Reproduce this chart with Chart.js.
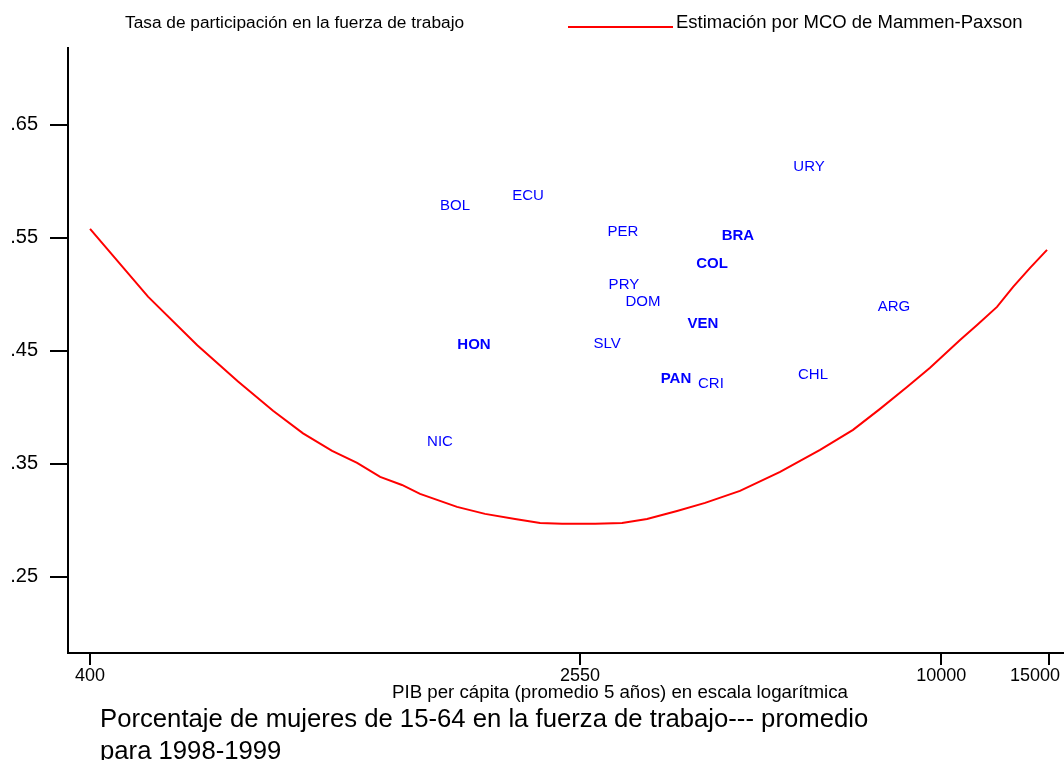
<!DOCTYPE html>
<html>
<head>
<meta charset="utf-8">
<script src="https://cdn.jsdelivr.net/npm/chart.js@4/dist/chart.umd.min.js"></script>
<style>
  body { margin: 0; background: #fff; }
  #chart { display: block; }
</style>
</head>
<body>
<canvas id="chart" width="1064" height="760"></canvas>
<script>
// country labels, GDP per capita (5-yr avg) and female participation rate
const countries = ["URY", "ECU", "BOL", "PER", "BRA", "COL", "PRY", "DOM", "VEN", "HON", "SLV", "PAN", "CRI", "CHL", "ARG", "NIC"];
const gdp = [6063, 2095, 1590, 3000, 4634, 4201, 3011, 3236, 4061, 1708, 2825, 3666, 4184, 6156, 8360, 1502];
const participation = [0.613, 0.587, 0.578, 0.555, 0.5515, 0.527, 0.508, 0.493, 0.474, 0.455, 0.4566, 0.4255, 0.421, 0.429, 0.489, 0.3696];
const boldCountries = ["HON", "BRA", "COL", "VEN", "PAN"];

// OLS fit (Mammen-Paxson)
const fitGdp = [400, 498, 600, 700, 799, 895, 999, 1098, 1198, 1301, 1393, 1602, 1781, 1995, 2193, 2384, 2700, 2990, 3286, 3681, 4093, 4670, 5435, 6322, 7161, 7931, 8782, 9581, 10732, 11446, 12342, 13118, 13986, 14912];
const fitRate = [0.558, 0.498, 0.455, 0.423, 0.397, 0.377, 0.3615, 0.351, 0.3385, 0.3314, 0.3235, 0.312, 0.3058, 0.3013, 0.2978, 0.297, 0.297, 0.2978, 0.3013, 0.3084, 0.3155, 0.3261, 0.3429, 0.3624, 0.3801, 0.3987, 0.4181, 0.435, 0.4597, 0.473, 0.4889, 0.5066, 0.5235, 0.5394];

const xTicks = [400, 2550, 10000, 15000];
const yTicks = [0.25, 0.35, 0.45, 0.55, 0.65];

const FONT = "'Liberation Sans', Arial, sans-serif";

const countryLabels = {
  id: "countryLabels",
  afterDatasetsDraw(chart) {
    const ctx = chart.ctx;
    const meta = chart.getDatasetMeta(0);
    ctx.save();
    ctx.fillStyle = "#0000ff";
    ctx.textAlign = "center";
    ctx.textBaseline = "middle";
    meta.data.forEach((pt, i) => {
      const name = countries[i];
      ctx.font = (boldCountries.includes(name) ? "bold " : "") + "15px " + FONT;
      ctx.fillText(name, pt.x, pt.y);
    });
    ctx.restore();
  },
};

const extraText = {
  id: "extraText",
  afterDraw(chart) {
    const ctx = chart.ctx;
    ctx.save();
    ctx.fillStyle = "#000";
    ctx.textBaseline = "middle";
    ctx.textAlign = "left";
    ctx.font = "17.3px " + FONT;
    ctx.fillText("Tasa de participación en la fuerza de trabajo", 125, 23);
    ctx.font = "18.5px " + FONT;
    ctx.fillText("Estimación por MCO de Mammen-Paxson", 676, 23);

    // legend line
    ctx.strokeStyle = "#ff0000";
    ctx.lineWidth = 2;
    ctx.beginPath();
    ctx.moveTo(568, 27);
    ctx.lineTo(673, 27);
    ctx.stroke();

    // x axis title
    ctx.textAlign = "center";
    ctx.font = "18.7px " + FONT;
    ctx.fillText("PIB per cápita (promedio 5 años) en escala logarítmica", 620, 693);

    // caption
    ctx.textAlign = "left";
    ctx.font = "25.7px " + FONT;
    ctx.fillText("Porcentaje de mujeres de 15-64 en la fuerza de trabajo--- promedio", 100, 720);
    ctx.fillText("para 1998-1999", 100, 752);
    ctx.restore();
  },
};

const ctx = document.getElementById("chart").getContext("2d");
new Chart(ctx, {
  type: "scatter",
  data: {
    datasets: [
      {
        label: "Tasa de participación en la fuerza de trabajo",
        data: gdp.map((g, i) => ({ x: g, y: participation[i] })),
        pointRadius: 0,
        showLine: false,
      },
      {
        label: "Estimación por MCO de Mammen-Paxson",
        data: fitGdp.map((g, i) => ({ x: g, y: fitRate[i] })),
        showLine: true,
        pointRadius: 0,
        borderColor: "#ff0000",
        borderWidth: 2,
        tension: 0,
      },
    ],
  },
  options: {
    responsive: false,
    animation: false,
    layout: { padding: { top: 48, left: 0, right: 0, bottom: 77 } },
    plugins: {
      legend: { display: false },
      tooltip: { enabled: false },
    },
    scales: {
      x: {
        type: "logarithmic",
        min: 368,
        max: 15900,
        afterBuildTicks: (axis) => {
          axis.ticks = xTicks.map((v) => ({ value: v }));
        },
        afterFit: (scale) => {
          scale.height = 30;
          scale.paddingLeft = 0;
          scale.paddingRight = 0;
        },
        ticks: {
          color: "#000",
          font: { family: FONT, size: 18 },
          padding: 0,
          maxRotation: 0,
          autoSkip: false,
          // last label sits against the right edge, nudge it left
          callback: (v) => (v === 15000 ? "15000\u2003\u2002" : String(v)),
        },
        grid: { drawOnChartArea: false, tickLength: 12, color: "#000", lineWidth: 2 },
        border: { color: "#000", width: 2 },
      },
      y: {
        min: 0.1827,
        max: 0.718,
        afterBuildTicks: (axis) => {
          axis.ticks = yTicks.map((v) => ({ value: v }));
        },
        afterFit: (scale) => {
          scale.width = 68;
        },
        ticks: {
          color: "#000",
          font: { family: FONT, size: 20 },
          padding: 12,
          callback: (v) => v.toFixed(2).replace(/^0/, ""),
        },
        grid: { drawOnChartArea: false, tickLength: 18, color: "#000", lineWidth: 2 },
        border: { color: "#000", width: 2 },
      },
    },
  },
  plugins: [countryLabels, extraText],
});
</script>
</body>
</html>
